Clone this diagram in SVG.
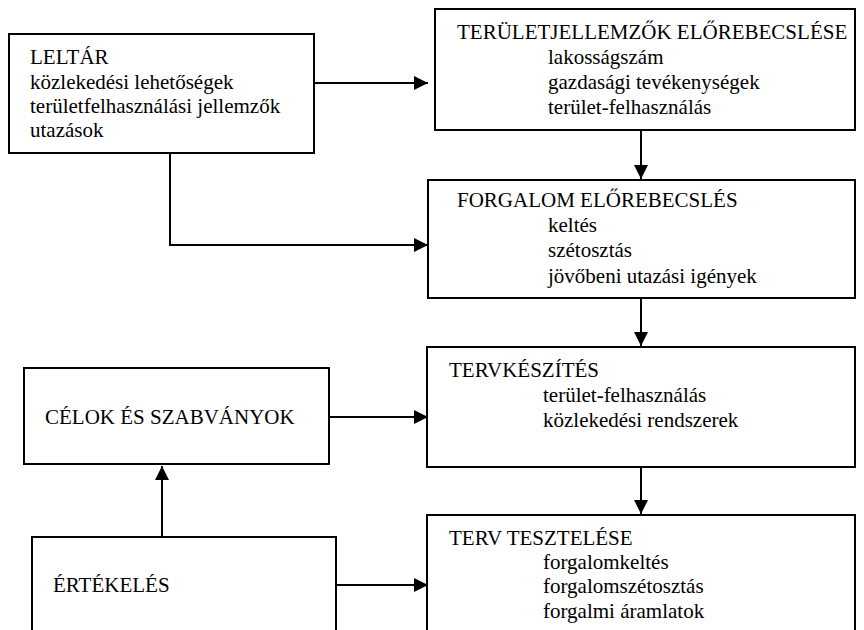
<svg xmlns="http://www.w3.org/2000/svg" width="864" height="630" viewBox="0 0 864 630">
<defs>
<marker id="ah" markerWidth="14" markerHeight="14" refX="14" refY="7" orient="auto" markerUnits="userSpaceOnUse">
<path d="M0,0 L14,7 L0,14 Z" fill="#000"/>
</marker>
<style>
.box{fill:#fff;stroke:#000;stroke-width:2}
.t{font-family:"Liberation Serif","Times New Roman",serif;font-size:21px;fill:#000}
.c{fill:none;stroke:#000;stroke-width:2}
</style>
</defs>
<rect width="864" height="630" fill="#fff"/>
<g id="connectors">
<line class="c" x1="314" y1="83" x2="428" y2="83" marker-end="url(#ah)"/>
<polyline class="c" points="170,153 170,245 428,245" marker-end="url(#ah)"/>
<line class="c" x1="641" y1="130" x2="641" y2="179" marker-end="url(#ah)"/>
<line class="c" x1="641" y1="298" x2="641" y2="346" marker-end="url(#ah)"/>
<line class="c" x1="641" y1="467" x2="641" y2="514" marker-end="url(#ah)"/>
<line class="c" x1="329" y1="417" x2="428" y2="417" marker-end="url(#ah)"/>
<line class="c" x1="336" y1="585" x2="428" y2="585" marker-end="url(#ah)"/>
<line class="c" x1="162" y1="537" x2="162" y2="466" marker-end="url(#ah)"/>
</g>
<g id="leltar">
<rect class="box" x="9" y="34" width="305" height="119"/>
<text class="t" x="30" y="64">LELTÁR</text>
<text class="t" x="30" y="89">közlekedési lehetőségek</text>
<text class="t" x="30" y="113">területfelhasználási jellemzők</text>
<text class="t" x="30" y="137">utazások</text>
</g>
<g id="teruletjellemzok">
<rect class="box" x="435" y="9" width="420" height="121"/>
<text class="t" x="457" y="39">TERÜLETJELLEMZŐK ELŐREBECSLÉSE</text>
<text class="t" x="548" y="64">lakosságszám</text>
<text class="t" x="548" y="89">gazdasági tevékenységek</text>
<text class="t" x="548" y="114">terület-felhasználás</text>
</g>
<g id="forgalom">
<rect class="box" x="428" y="180" width="427" height="118"/>
<text class="t" x="457" y="207">FORGALOM ELŐREBECSLÉS</text>
<text class="t" x="548" y="232">keltés</text>
<text class="t" x="548" y="257">szétosztás</text>
<text class="t" x="548" y="283">jövőbeni utazási igények</text>
</g>
<g id="tervkeszites">
<rect class="box" x="427" y="347" width="428" height="120"/>
<text class="t" x="449" y="377">TERVKÉSZÍTÉS</text>
<text class="t" x="543" y="402">terület-felhasználás</text>
<text class="t" x="543" y="427">közlekedési rendszerek</text>
</g>
<g id="tervteszteles">
<rect class="box" x="427" y="515" width="428" height="130"/>
<text class="t" x="449" y="545">TERV TESZTELÉSE</text>
<text class="t" x="543" y="569">forgalomkeltés</text>
<text class="t" x="543" y="593">forgalomszétosztás</text>
<text class="t" x="543" y="618">forgalmi áramlatok</text>
</g>
<g id="celok">
<rect class="box" x="24" y="368" width="305" height="96"/>
<text class="t" x="45" y="424">CÉLOK ÉS SZABVÁNYOK</text>
</g>
<g id="ertekeles">
<rect class="box" x="32" y="537" width="304" height="110"/>
<text class="t" x="53" y="592">ÉRTÉKELÉS</text>
</g>
</svg>
